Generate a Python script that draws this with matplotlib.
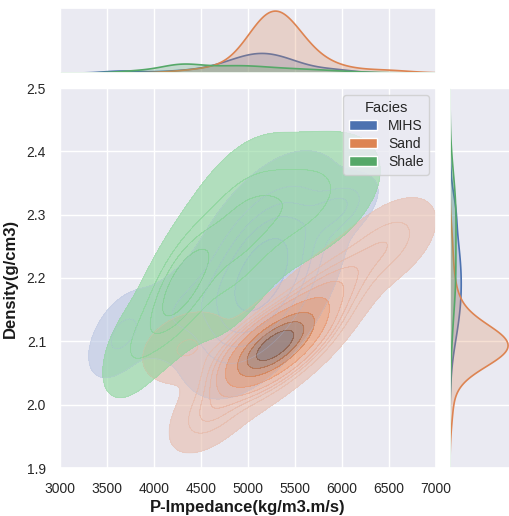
import numpy as np
import matplotlib
matplotlib.use("Agg")
import matplotlib.pyplot as plt
from matplotlib.patches import Patch
from matplotlib.colors import ListedColormap
import seaborn as sns
from seaborn.external import husl

# ---------------- data (Gaussian-mixture description of each facies) ----------------
facies = ["MIHS", "Sand", "Shale"]
facies_colors = ["#4c72b0", "#dd8452", "#55a868"]
facies_share = [0.24, 0.60, 0.16]

# components: mean impedance, mean density, sd impedance, sd density, correlation, weight
mihs_mx = [5150, 3650, 4300, 5950]
mihs_my = [2.205, 2.11, 2.15, 2.31]
mihs_sx = [360, 180, 300, 200]
mihs_sy = [0.075, 0.035, 0.040, 0.025]
mihs_r = [0.5, 0.5, 0.5, 0.5]
mihs_w = [0.85, 0.04, 0.06, 0.05]

sand_mx = [5270, 5500, 4600, 4350, 6500]
sand_my = [2.092, 2.12, 1.99, 2.09, 2.255]
sand_sx = [270, 420, 200, 250, 250]
sand_sy = [0.032, 0.062, 0.030, 0.030, 0.035]
sand_r = [0.65, 0.85, 0.5, 0.3, 0.5]
sand_w = [0.645, 0.29, 0.02, 0.02, 0.025]

shale_mx = [3800, 4280, 4850, 5500]
shale_my = [2.09, 2.185, 2.26, 2.32]
shale_sx = [200, 230, 320, 450]
shale_sy = [0.045, 0.055, 0.075, 0.055]
shale_r = [0.5, 0.65, 0.5, 0.45]
shale_w = [0.06, 0.31, 0.33, 0.30]

x_ticks = [3000, 3500, 4000, 4500, 5000, 5500, 6000, 6500, 7000]
y_ticks = [1.9, 2.0, 2.1, 2.2, 2.3, 2.4, 2.5]
x_label = "P-Impedance(kg/m3.m/s)"
y_label = "Density(g/cm3)"

comps = {
    "MIHS": (mihs_mx, mihs_my, mihs_sx, mihs_sy, mihs_r, mihs_w),
    "Sand": (sand_mx, sand_my, sand_sx, sand_sy, sand_r, sand_w),
    "Shale": (shale_mx, shale_my, shale_sx, shale_sy, shale_r, shale_w),
}

# ---------------- style ----------------
sns.set_theme(style="darkgrid")
plt.rcParams["font.family"] = ["Liberation Sans", "DejaVu Sans"]


def gauss2(X, Y, mx, my, sx, sy, r):
    zx = (X - mx) / sx
    zy = (Y - my) / sy
    q = (zx ** 2 - 2 * r * zx * zy + zy ** 2) / (1 - r ** 2)
    return np.exp(-q / 2) / (2 * np.pi * sx * sy * np.sqrt(1 - r ** 2))


def gauss1(v, m, s):
    return np.exp(-0.5 * ((v - m) / s) ** 2) / (np.sqrt(2 * np.pi) * s)


def cmap_from_color(color):
    r, g, b, _ = matplotlib.colors.to_rgba(color)
    h, s, _ = husl.rgb_to_husl(r, g, b)
    xx = np.linspace(-1, 1, int(1.15 * 256))[:256]
    ramp = np.zeros((256, 3))
    ramp[:, 0] = h
    ramp[:, 1] = s * np.cos(xx)
    ramp[:, 2] = np.linspace(35, 80, 256)
    cols = np.clip([husl.husl_to_rgb(*hsl) for hsl in ramp], 0, 1)
    return ListedColormap(cols[::-1])


xg = np.linspace(2000, 8000, 480)
yg = np.linspace(1.6, 2.8, 480)
X, Y = np.meshgrid(xg, yg)

dens2 = {}
margx = {}
margy = {}
for name, share in zip(facies, facies_share):
    mx, my, sx, sy, rr, ww = comps[name]
    D = np.zeros_like(X)
    dx = np.zeros_like(xg)
    dy = np.zeros_like(yg)
    for a, b, c, d, e, w in zip(mx, my, sx, sy, rr, ww):
        D += w * gauss2(X, Y, a, b, c, d, e)
        dx += w * gauss1(xg, a, c)
        dy += w * gauss1(yg, b, d)
    dens2[name] = share * D
    margx[name] = share * dx
    margy[name] = share * dy

# common iso-proportion levels (as seaborn with common_norm)
isoprop = np.linspace(0.02, 1, 10)
vals = np.concatenate([d.ravel() for d in dens2.values()])
sv = np.sort(vals)[::-1]
cum = np.cumsum(sv) / vals.sum()
idx = np.searchsorted(cum, 1 - isoprop)
levels = np.take(sv, idx, mode="clip")
levels = np.unique(levels)

# ---------------- figure ----------------
W, H = 510, 516
fig = plt.figure(figsize=(W / 100, H / 100), dpi=100)


def ax_px(l, t, r, b):
    return fig.add_axes([l / W, 1 - b / H, (r - l) / W, (b - t) / H])


ax = ax_px(60, 88, 436, 468)
axt = ax_px(60, 8, 436, 73)
axr = ax_px(450, 88, 511, 468)

for name, col in zip(facies, facies_colors):
    cmap = cmap_from_color(col)
    ax.contourf(X, Y, dens2[name], levels=levels, cmap=cmap, alpha=0.6)
    ax.contour(X, Y, dens2[name], levels=levels, cmap=cmap, alpha=0.35, linewidths=0.6)

ax.set_xlim(3000, 7000)
ax.set_ylim(1.9, 2.5)
ax.set_xticks(x_ticks)
ax.set_yticks(y_ticks)
ax.set_xticklabels([str(v) for v in x_ticks])
ax.set_yticklabels([f"{v:.1f}" for v in y_ticks])
ax.tick_params(labelsize=10, colors=".15", pad=4)
ax.set_xlabel(x_label, fontsize=12, fontweight="bold", color="0.1", labelpad=3)
ax.set_ylabel(y_label, fontsize=12, fontweight="bold", color="0.1", labelpad=6)

handles = [Patch(facecolor=c, label=n) for n, c in zip(facies, facies_colors)]
leg = ax.legend(handles=handles, title="Facies", loc="upper right", fontsize=10,
                title_fontsize=10.5, labelspacing=0.3, handleheight=0.8,
                borderaxespad=0.5)

for name, col in zip(facies, facies_colors):
    axt.fill_between(xg, 0, margx[name], facecolor=matplotlib.colors.to_rgba(col, 0.25),
                     edgecolor=col, linewidth=1.2)
    axr.fill_betweenx(yg, 0, margy[name], facecolor=matplotlib.colors.to_rgba(col, 0.25),
                      edgecolor=col, linewidth=1.2)

axt.set_xlim(3000, 7000)
axt.set_ylim(0, max(m.max() for m in margx.values()) * 1.05)
axt.set_xticks(x_ticks)
axt.tick_params(labelbottom=False, labelleft=False, left=False, bottom=False)
axt.yaxis.grid(False)
axr.set_ylim(1.9, 2.5)
axr.set_xlim(0, max(m.max() for m in margy.values()) * 1.05)
axr.set_yticks(y_ticks)
axr.tick_params(labelbottom=False, labelleft=False, left=False, bottom=False)
axr.xaxis.grid(False)

fig.savefig("out.png", dpi=100)
